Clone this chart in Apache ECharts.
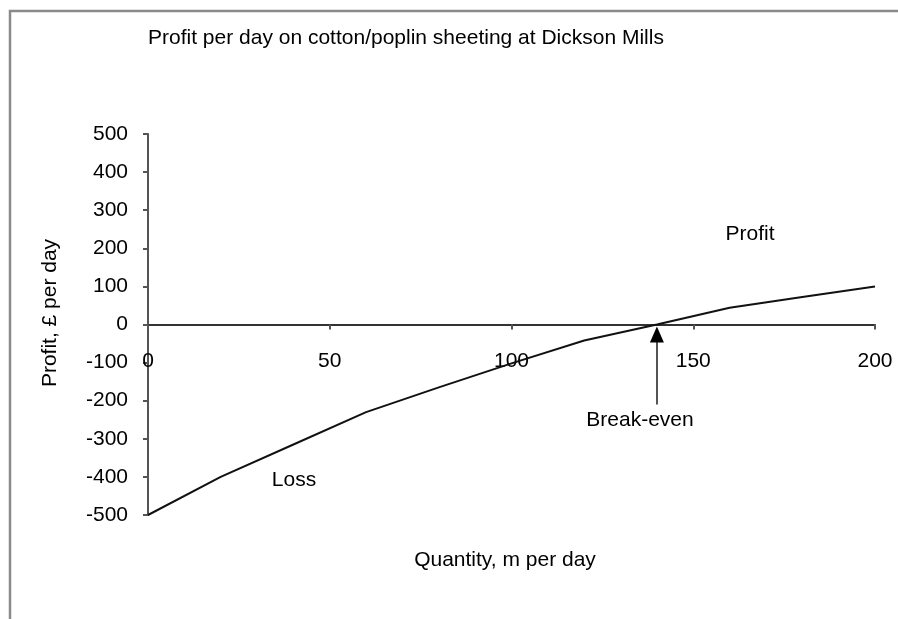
<!DOCTYPE html>
<html>
<head>
<meta charset="utf-8">
<script src="https://cdn.jsdelivr.net/npm/echarts@6/dist/echarts.min.js"></script>
<style>
  html, body { margin: 0; padding: 0; background: #fff; }
  #chart { width: 898px; height: 619px; }
</style>
</head>
<body>
<div id="chart"></div>
<script>
// Quantity produced (m per day) and resulting profit (£ per day)
const quantity = [0, 20, 40, 60, 80, 100, 120, 140, 160, 180, 200];
const profit   = [-500, -400, -315, -230, -165, -102, -42, 0, 44, 72, 100];

const breakEvenQty = 140;
const breakEvenArrowBase = -210;
const breakEvenArrowNeck = -30;

const FONT = '"Liberation Sans", Arial, sans-serif';
const FS = 21;

const chart = echarts.init(document.getElementById('chart'), null, { renderer: 'canvas' });

chart.setOption({
  animation: false,
  backgroundColor: '#ffffff',
  textStyle: { fontFamily: FONT, color: '#000' },
  grid: { left: 148, right: 23, top: 134, bottom: 104, containLabel: false, outerBoundsMode: 'none' },
  xAxis: {
    type: 'value',
    min: 0, max: 200, interval: 50,
    axisLine: { onZero: true, lineStyle: { color: '#333', width: 2 } },
    axisTick: { show: true, length: 5, lineStyle: { color: '#555', width: 2 } },
    // quantity labels sit just under the zero line
    axisLabel: { margin: -164, fontFamily: FONT, fontSize: FS, color: '#000' },
    splitLine: { show: false }
  },
  yAxis: {
    type: 'value',
    min: -500, max: 500, interval: 100,
    axisLine: { show: true, onZero: false, lineStyle: { color: '#555', width: 2 } },
    axisTick: { show: true, length: 5, lineStyle: { color: '#555', width: 2 } },
    axisLabel: { margin: 20, fontFamily: FONT, fontSize: FS, color: '#000' },
    splitLine: { show: false }
  },
  series: [{
    type: 'line',
    data: quantity.map((q, i) => [q, profit[i]]),
    showSymbol: false,
    lineStyle: { color: '#111', width: 2 },
    // break-even arrow: grey shaft with a black head touching the zero line
    markLine: {
      silent: true,
      symbol: ['none', 'none'],
      label: { show: false },
      lineStyle: { color: '#555', width: 2, type: 'solid' },
      data: [[
        { coord: [breakEvenQty, breakEvenArrowBase] },
        { coord: [breakEvenQty, breakEvenArrowNeck] }
      ]]
    },
    markPoint: {
      silent: true,
      symbol: 'triangle',
      symbolSize: [14, 16],
      symbolOffset: [0, 10],
      label: { show: false },
      itemStyle: { color: '#000' },
      data: [{ coord: [breakEvenQty, 0] }]
    }
  }],
  graphic: [
    {
      type: 'rect', silent: true, z: -1,
      shape: { x: 10, y: 11, width: 1000, height: 1000 },
      style: { fill: 'none', stroke: '#8a8a8a', lineWidth: 2.5 }
    },
    {
      type: 'text', x: 148, y: 38,
      style: { text: 'Profit per day on cotton/poplin sheeting at Dickson Mills', font: FS + 'px ' + FONT, fill: '#000', verticalAlign: 'middle' }
    },
    {
      type: 'text', x: 50, y: 313, rotation: Math.PI / 2,
      style: { text: 'Profit, £ per day', font: FS + 'px ' + FONT, fill: '#000', align: 'center', verticalAlign: 'middle' }
    },
    {
      type: 'text', x: 505, y: 560,
      style: { text: 'Quantity, m per day', font: FS + 'px ' + FONT, fill: '#000', align: 'center', verticalAlign: 'middle' }
    },
    {
      type: 'text', x: 750, y: 234,
      style: { text: 'Profit', font: FS + 'px ' + FONT, fill: '#000', align: 'center', verticalAlign: 'middle' }
    },
    {
      type: 'text', x: 294, y: 480,
      style: { text: 'Loss', font: FS + 'px ' + FONT, fill: '#000', align: 'center', verticalAlign: 'middle' }
    },
    {
      type: 'text', x: 640, y: 420,
      style: { text: 'Break-even', font: FS + 'px ' + FONT, fill: '#000', align: 'center', verticalAlign: 'middle' }
    }
  ]
});
</script>
</body>
</html>
